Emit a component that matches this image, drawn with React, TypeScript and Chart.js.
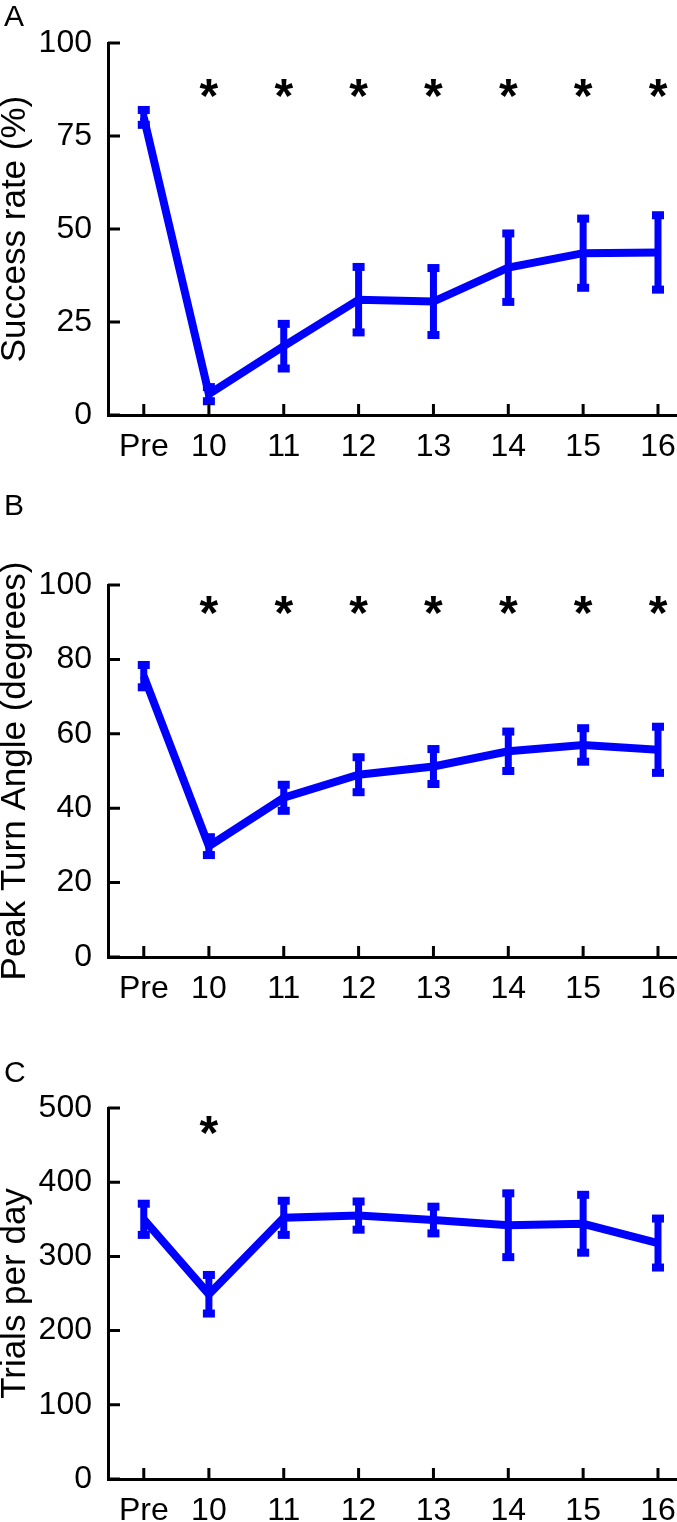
import React, { useEffect, useRef } from 'react';
import { Chart, registerables } from 'chart.js';

Chart.register(...registerables);

// ---------- data ----------
const dayLabels = ['Pre', '10', '11', '12', '13', '14', '15', '16'];
const dayX = [9.13, 10, 11, 12, 13, 14, 15, 16];

const successMean = [80, 5.6, 18.5, 31, 30.5, 39.6, 43.5, 43.7];
const successErr = [2, 1.9, 6, 8.8, 9, 9.2, 9.3, 10];
const successSig = [false, true, true, true, true, true, true, true];
const successStarLevel = 88.7;
const successTicks = [0, 25, 50, 75, 100];

const angleMean = [75.5, 29.8, 42.8, 49, 51.2, 55.3, 57, 55.7];
const angleErr = [3, 2.4, 3.5, 4.7, 4.7, 5.3, 4.5, 6.2];
const angleSig = [false, true, true, true, true, true, true, true];
const angleStarLevel = 95.5;
const angleTicks = [0, 20, 40, 60, 80, 100];

const trialsMean = [350, 249, 352, 355, 349, 342, 344, 318];
const trialsErr = [21, 26, 23, 19, 18, 43, 39, 33];
const trialsSig = [false, true, false, false, false, false, false, false];
const trialsStarLevel = 481;
const trialsTicks = [0, 100, 200, 300, 400, 500];

// ---------- style ----------
const BLUE = '#0000ff';
const FONT = '"Liberation Sans", Arial, Helvetica, sans-serif';
const W = 677;
const STAR_SIZE = 48;

const extrasPlugin = {
  id: 'extras',
  afterDatasetsDraw(chart: any) {
    const o = chart.options.plugins.extras;
    if (!o) return;
    const xs = chart.scales.x;
    const ys = chart.scales.y;
    const ctx = chart.ctx;
    const area = chart.chartArea;
    ctx.save();
    // error bars
    ctx.fillStyle = BLUE;
    o.means.forEach((m: number, i: number) => {
      const px = xs.getPixelForValue(dayX[i]);
      const top = ys.getPixelForValue(m + o.errs[i]);
      const bot = ys.getPixelForValue(m - o.errs[i]);
      ctx.fillRect(px - 3.5, top, 7, bot - top);
      ctx.fillRect(px - 6, top - 4, 12, 8);
      ctx.fillRect(px - 6, bot - 4, 12, 8);
    });
    // inward tick marks
    ctx.strokeStyle = '#000';
    ctx.lineWidth = 3;
    ctx.beginPath();
    xs.ticks.forEach((t: any) => {
      const px = xs.getPixelForValue(t.value);
      ctx.moveTo(px, area.bottom);
      ctx.lineTo(px, area.bottom - 11);
    });
    ys.ticks.forEach((t: any) => {
      const py = ys.getPixelForValue(t.value);
      ctx.moveTo(area.left, py);
      ctx.lineTo(area.left + 12, py);
    });
    ctx.stroke();
    // significance stars
    ctx.fillStyle = '#000';
    ctx.font = 'bold ' + STAR_SIZE + 'px ' + FONT;
    ctx.textAlign = 'center';
    ctx.textBaseline = 'alphabetic';
    o.sig.forEach((s: boolean, i: number) => {
      if (!s) return;
      const px = xs.getPixelForValue(dayX[i]);
      const py = ys.getPixelForValue(o.starLevel);
      ctx.fillText('*', px, py + 0.57 * STAR_SIZE);
    });
    // panel letter
    ctx.font = '30px ' + FONT;
    ctx.textAlign = 'left';
    ctx.fillText(o.letter, 4, o.letterY);
    ctx.restore();
  },
};

type PanelProps = {
  top: number;
  height: number;
  areaTop: number;
  areaBottom: number;
  means: number[];
  errs: number[];
  sig: boolean[];
  starLevel: number;
  yTicks: number[];
  title: string;
  letter: string;
  letterY: number;
};

function Panel(p: PanelProps) {
  const ref = useRef<HTMLCanvasElement>(null);
  useEffect(() => {
    const canvas = ref.current;
    if (!canvas) return;
    const yMax = p.yTicks[p.yTicks.length - 1];
    const chart = new Chart(canvas, {
      type: 'line',
      data: {
        datasets: [
          {
            data: dayX.map((x, i) => ({ x, y: p.means[i] })),
            borderColor: BLUE,
            backgroundColor: BLUE,
            borderWidth: 8,
            pointRadius: 0,
            tension: 0,
            fill: false,
          },
        ],
      },
      options: {
        animation: false,
        responsive: false,
        devicePixelRatio: 1,
        layout: { padding: { top: p.areaTop, left: 0, right: 0, bottom: 0 } },
        plugins: {
          legend: { display: false },
          tooltip: { enabled: false },
          extras: {
            means: p.means,
            errs: p.errs,
            sig: p.sig,
            starLevel: p.starLevel,
            letter: p.letter,
            letterY: p.letterY,
          },
        } as any,
        scales: {
          x: {
            type: 'linear',
            min: 8.652,
            max: 16.254,
            grid: { display: false },
            border: { display: true, color: '#000', width: 3 },
            afterBuildTicks: (scale: any) => {
              scale.ticks = dayX.map((v) => ({ value: v }));
            },
            afterFit: (scale: any) => {
              scale.height = p.height - p.areaBottom;
              scale.paddingLeft = 0;
              scale.paddingRight = 0;
            },
            ticks: {
              autoSkip: false,
              maxRotation: 0,
              padding: 5,
              color: '#000',
              font: { family: FONT, size: 32 },
              callback: (_v: any, i: number) => dayLabels[i],
            },
          },
          y: {
            type: 'linear',
            min: 0,
            max: yMax,
            grid: { display: false },
            border: { display: true, color: '#000', width: 3 },
            afterBuildTicks: (scale: any) => {
              scale.ticks = p.yTicks.map((v) => ({ value: v }));
            },
            afterFit: (scale: any) => {
              scale.width = 108;
              scale.paddingTop = 0;
              scale.paddingBottom = 0;
            },
            ticks: {
              padding: 8,
              color: '#000',
              font: { family: FONT, size: 32 },
              callback: (v: any) => String(v),
            },
            title: {
              display: true,
              text: p.title,
              color: '#000',
              font: { family: FONT, size: 35, lineHeight: 0.9 },
              padding: { top: 0, bottom: 0 },
            },
          },
        },
      },
      plugins: [extrasPlugin],
    } as any);
    return () => chart.destroy();
  }, []);
  return (
    <canvas
      ref={ref}
      width={W}
      height={p.height}
      style={{ position: 'absolute', left: 0, top: p.top, width: W, height: p.height }}
    />
  );
}

export default function App() {
  return (
    <div style={{ position: 'absolute', left: 0, top: 0, width: W, height: 1522, background: '#fff' }}>
      <Panel
        top={0}
        height={480}
        areaTop={43}
        areaBottom={415}
        means={successMean}
        errs={successErr}
        sig={successSig}
        starLevel={successStarLevel}
        yTicks={successTicks}
        title="Success rate (%)"
        letter="A"
        letterY={26}
      />
      <Panel
        top={480}
        height={560}
        areaTop={105}
        areaBottom={477}
        means={angleMean}
        errs={angleErr}
        sig={angleSig}
        starLevel={angleStarLevel}
        yTicks={angleTicks}
        title="Peak Turn Angle (degrees)"
        letter="B"
        letterY={35}
      />
      <Panel
        top={1040}
        height={482}
        areaTop={68}
        areaBottom={439}
        means={trialsMean}
        errs={trialsErr}
        sig={trialsSig}
        starLevel={trialsStarLevel}
        yTicks={trialsTicks}
        title="Trials per day"
        letter="C"
        letterY={42}
      />
    </div>
  );
}
